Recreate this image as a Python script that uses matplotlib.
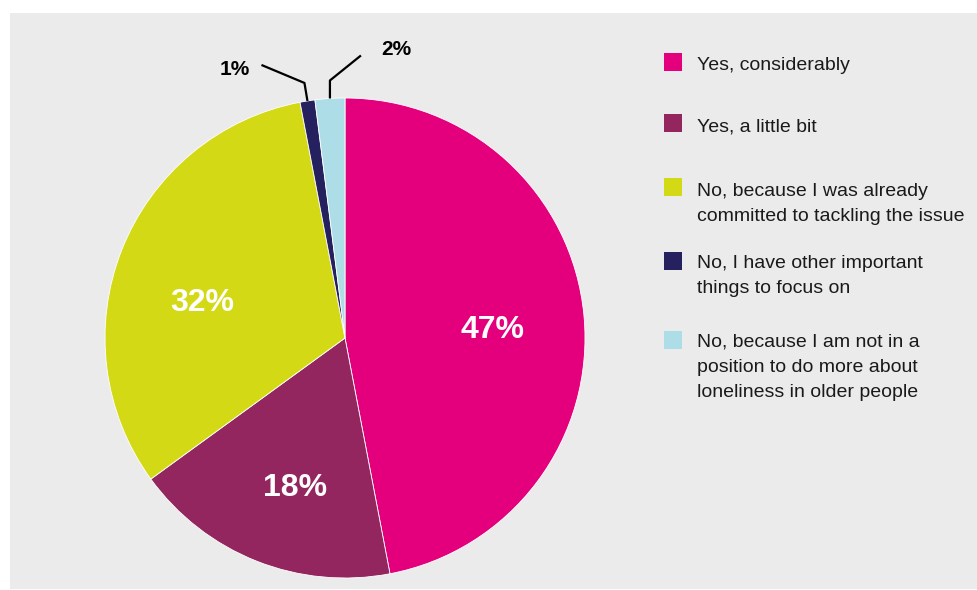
import numpy as np
import matplotlib
matplotlib.use("Agg")
import matplotlib.pyplot as plt
from matplotlib.patches import Rectangle

plt.rcParams['font.family'] = ['Liberation Sans', 'DejaVu Sans']

labels = [
    ["Yes, considerably"],
    ["Yes, a little bit"],
    ["No, because I was already", "committed to tackling the issue"],
    ["No, I have other important", "things to focus on"],
    ["No, because I am not in a", "position to do more about",
     "loneliness in older people"],
]
values = [47, 18, 32, 1, 2]
colors = ["#E4007C", "#93265F", "#D4D915", "#25215F", "#ADDDE6"]
pct_labels = ["47%", "18%", "32%", "1%", "2%"]

W, H = 978, 590
fig = plt.figure(figsize=(W / 100, H / 100), dpi=100)
fig.patch.set_facecolor("white")
ax = fig.add_axes([0, 0, 1, 1])

# grey panel
ax.add_patch(Rectangle((10, 1), W - 10, H - 14, facecolor="#EBEBEB",
                       edgecolor="none", zorder=0))

cx, cy, R = 345, H - 338, 240
wedges, _ = ax.pie(values, colors=colors, startangle=90, counterclock=False,
                   center=(cx, cy), radius=R, frame=True,
                   wedgeprops=dict(edgecolor="white", linewidth=0.6))
ax.set_xlim(0, W)
ax.set_ylim(0, H)
ax.set_aspect("equal")
ax.axis("off")

def mid_angle(w):
    return (w.theta1 + w.theta2) / 2

# large inside labels (radius fraction, angular nudge in degrees)
inner_pos = [(0.616, -1.1), (0.647, 2.8), (0.615, 6.5)]
big_cap = 23
for w, txt, (r, da) in zip(wedges[:3], pct_labels[:3], inner_pos):
    a = np.deg2rad(mid_angle(w) + da)
    x, y = cx + np.cos(a) * R * r, cy + np.sin(a) * R * r
    ax.text(x, y - big_cap / 2, txt, color="white", fontsize=23,
            fontweight="bold", ha="center", va="baseline")

# small slices with leader lines
elbows = [((-3, 18), (-46, 36)), ((0, 18), (31, 43))]
label_pos = [(-73, 33), (66, 51)]
small_cap = 15
for w, txt, (e1, e2), (lx, ly) in zip(wedges[3:], pct_labels[3:], elbows, label_pos):
    a = np.deg2rad(mid_angle(w))
    sx, sy = cx + np.cos(a) * R, cy + np.sin(a) * R
    xs = [sx, sx + e1[0], sx + e2[0]]
    ys = [sy, sy + e1[1], sy + e2[1]]
    ax.plot(xs, ys, color="black", lw=1.6, solid_capstyle="butt")
    ax.text(sx + lx, sy + ly - small_cap / 2, txt, color="black", fontsize=15,
            fontweight="bold", ha="center", va="baseline")

# legend: square swatches and label lines
sq = 18
square_top = [53, 114, 178, 252, 331]
first_baseline = [69.5, 131.5, 195.5, 267.5, 346.5]
line_step = 25.2
for lines, col, st, bl in zip(labels, colors, square_top, first_baseline):
    ax.add_patch(Rectangle((664, H - st - sq), sq, sq, facecolor=col,
                           edgecolor="none"))
    for i, line in enumerate(lines):
        ax.text(697, H - (bl + i * line_step), line, fontsize=14.0,
                color="#1a1a1a", ha="left", va="baseline")

fig.savefig("out.png", dpi=100, facecolor=fig.get_facecolor())
